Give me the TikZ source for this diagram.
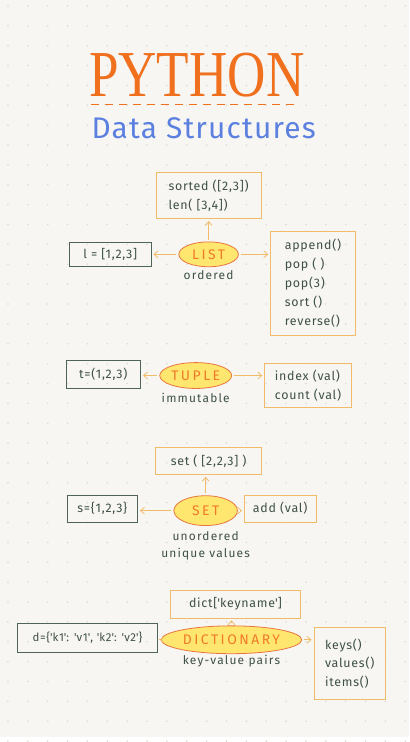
\documentclass[tikz,border=0pt]{standalone}
\usepackage{fontspec}
\setmainfont{Fira Sans}
\newfontfamily\titlefont{Liberation Serif}
\newfontfamily\pillfont[LetterSpace=18]{Fira Sans}
\newfontfamily\notefont[LetterSpace=10]{Fira Sans}
\newfontfamily\inkfont[LetterSpace=6]{Fira Sans}
\newfontfamily\subfont[LetterSpace=4]{Fira Sans}
\usepackage{xcolor}
\usepackage{graphicx}
\usetikzlibrary{positioning, arrows.meta, shapes.geometric}
\definecolor{PaperBg}{HTML}{F7F6F2}
\definecolor{DotGrey}{HTML}{DCDBD5}
\definecolor{TitleOrange}{HTML}{F0701E}
\definecolor{SubBlue}{HTML}{5B80E0}
\definecolor{BoxOrange}{HTML}{F1BC6A}
\definecolor{BoxDark}{HTML}{4E6459}
\definecolor{InkGreen}{HTML}{3E5048}
\definecolor{PillYellow}{HTML}{FFE66E}
\definecolor{PillRed}{HTML}{E8763E}
\definecolor{PillText}{HTML}{F07A2A}

\begin{document}
\begin{tikzpicture}[x=1pt, y=-1pt,
    methodbox/.style={draw=BoxOrange, thick, text=InkGreen, align=left, inner sep=4pt, font=\inkfont\fontsize{12.5}{19}\selectfont},
    literalbox/.style={draw=BoxDark, thick, text=InkGreen, inner sep=3pt, font=\inkfont\fontsize{12.5}{14}\selectfont},
    typepill/.style={ellipse, draw=PillRed, thick, fill=PillYellow, text=PillText, inner sep=1pt, font=\pillfont\fontsize{14}{16}\selectfont},
    notelabel/.style={text=InkGreen, align=center, font=\notefont\fontsize{12}{17}\selectfont},
    link/.style={draw=BoxOrange, thick, shorten <=2pt, shorten >=2pt, -{Straight Barb[length=4pt, width=7pt]}}
]

    % paper and dot grid
    \fill[PaperBg] (0,0) rectangle (412,742);
    \foreach \i in {0,...,20}
        \foreach \j in {0,...,37}
            \fill[DotGrey] (8+20*\i, 6+20*\j) circle (0.9pt);

    % title
    \node[text=TitleOrange, font=\titlefont\fontsize{66}{70}\selectfont, inner sep=0pt] (title) at (198,76) {\scalebox{0.81}[1]{PYTHON}};
    \draw[TitleOrange, thick, dash pattern=on 8pt off 6pt] (92,105) -- (302,105);
    \node[text=SubBlue, font=\subfont\fontsize{30}{32}\selectfont, inner sep=0pt] (subtitle) at (205,129) {Data Structures};

    % list
    \node[methodbox, minimum width=106, minimum height=46] (listtop) at (210,197) {sorted ([2,3])\\len( [3,4])};
    \node[typepill, minimum width=60, minimum height=25] (list) at (210,256) {LIST};
    \node[notelabel] (listnote) at (210,277) {ordered};
    \node[literalbox, minimum width=82, minimum height=24] (listlit) at (111,256) {l = [1,2,3]};
    \node[methodbox, minimum width=85, minimum height=105] (listops) at (315,285) {append()\\pop ( )\\pop(3)\\sort ()\\reverse()};
    \draw[link] (list) -- (listtop);
    \draw[link] (list) -- (listlit);
    \draw[link] (list.east) -- (list.east -| listops.west);

    % tuple
    \node[typepill, minimum width=72, minimum height=26] (tuple) at (197,378) {TUPLE};
    \node[notelabel] (tuplenote) at (197,401) {immutable};
    \node[literalbox, minimum width=75, minimum height=28] (tuplelit) at (104,377) {t=(1,2,3)};
    \node[methodbox, minimum width=87, minimum height=44] (tupleops) at (310,388) {index (val)\\count (val)};
    \draw[link] (tuple.west) -- (tuple.west -| tuplelit.east);
    \draw[link] (tuple.east) -- (tuple.east -| tupleops.west);

    % set
    \node[methodbox, minimum width=107, minimum height=27] (settop) at (210,464) {set ( [2,2,3] )};
    \node[typepill, minimum width=64, minimum height=30] (set) at (207,514) {SET};
    \node[notelabel] (setnote) at (207,549) {unordered\\unique values};
    \node[literalbox, minimum width=71, minimum height=27] (setlit) at (103,512) {s=\{1,2,3\}};
    \node[methodbox, minimum width=72, minimum height=27] (setops) at (282,512) {add (val)};
    \draw[link] (set) -- (set |- settop.south);
    \draw[link] (set.west) -- (set.west -| setlit.east);
    \draw[link] (set.east) -- (set.east -| setops.west);

    % dictionary
    \node[methodbox, minimum width=130, minimum height=28] (dicttop) at (237,608) {dict[\textquotesingle keyname\textquotesingle]};
    \node[typepill, minimum width=127, minimum height=28] (dict) at (233,644) {DICTIONARY};
    \node[notelabel] (dictnote) at (233,665) {key-value pairs};
    \node[literalbox, minimum width=141, minimum height=29, font=\inkfont\fontsize{11.5}{13}\selectfont] (dictlit) at (88,642) {d=\{\textquotesingle k1\textquotesingle: \textquotesingle v1\textquotesingle, \textquotesingle k2\textquotesingle: \textquotesingle v2\textquotesingle\}};
    \node[methodbox, minimum width=72, minimum height=73] (dictops) at (352,668) {keys()\\values()\\items()};
    \draw[link] (dict) -- (dict |- dicttop.south);
    \draw[link] (dict.west) -- (dict.west -| dictlit.east);
    \draw[link] (dict.east) -- (dict.east -| dictops.west);

\end{tikzpicture}
\end{document}
